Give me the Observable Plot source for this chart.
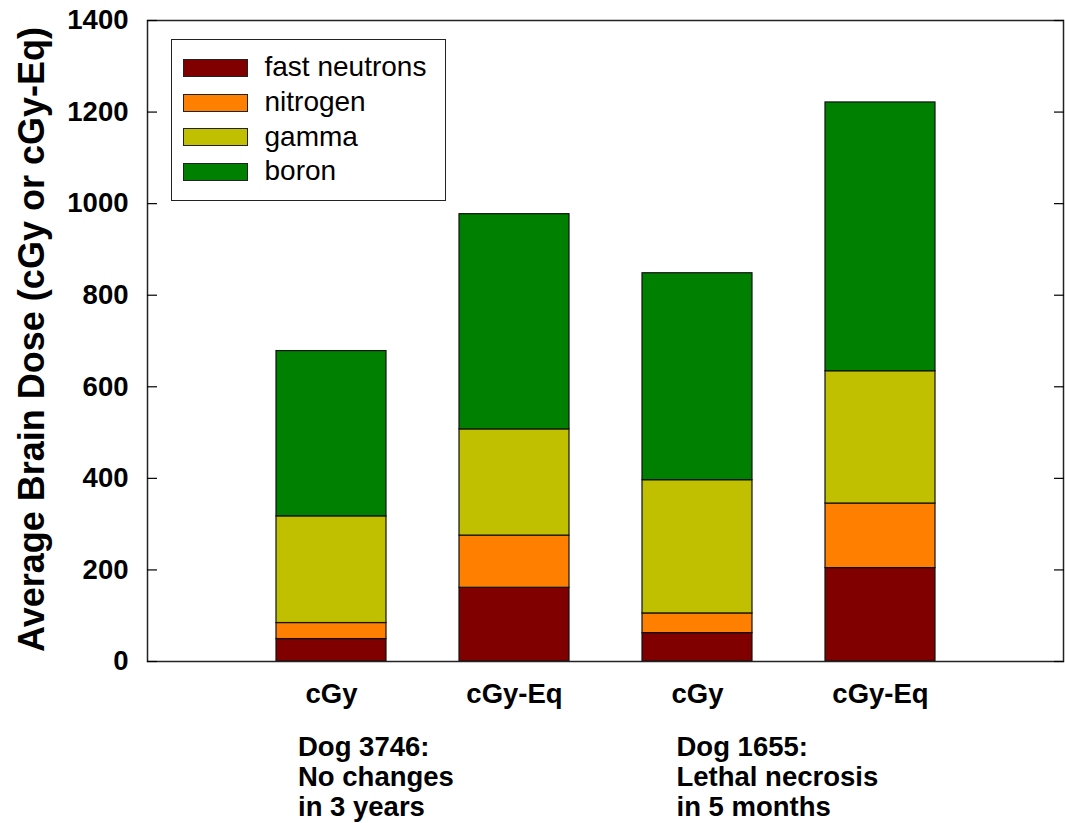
<!DOCTYPE html>
<html>
<head>
<meta charset="utf-8">
<script src="https://cdn.jsdelivr.net/npm/d3@7"></script>
<script src="https://cdn.jsdelivr.net/npm/@observablehq/plot@0.6"></script>
<style>
  body { margin: 0; background: #fff; }
  #wrap { position: relative; width: 1065px; height: 823px; font-family: "Liberation Sans", Arial, sans-serif; }
  #legend { position: absolute; left: 171px; top: 39px; width: 275px; height: 162px; box-sizing: border-box; border: 1.5px solid #222; background: #fff; }
  .sw { position: absolute; width: 65px; height: 18px; box-sizing: border-box; border: 1px solid #222; }
  .lab { position: absolute; font-size: 28px; line-height: 28px; color: #000; white-space: nowrap; }
</style>
</head>
<body>
<div id="wrap"></div>
<script>
// ---- data ----
const categories = ["3746 cGy", "3746 cGy-Eq", "1655 cGy", "1655 cGy-Eq"];
const seriesNames = ["fast neutrons", "nitrogen", "gamma", "boron"];
const seriesColors = ["#800000", "#ff8000", "#c0c000", "#008000"];
const fastNeutrons = [49, 161, 62, 204];
const nitrogen = [35, 114, 43, 141];
const gamma = [233, 232, 291, 289];
const boron = [361, 470, 452, 587];
const yTicks = [0, 200, 400, 600, 800, 1000, 1200, 1400];
const yLabel = "Average Brain Dose (cGy or cGy-Eq)";
const dogNotes = [
  {cat: "3746 cGy", text: "Dog 3746:\nNo changes\nin 3 years"},
  {cat: "1655 cGy", text: "Dog 1655:\nLethal necrosis\nin 5 months"}
];

const seriesValues = [fastNeutrons, nitrogen, gamma, boron];
const rows = [];
categories.forEach((c, i) => {
  seriesNames.forEach((s, j) => rows.push({cat: c, series: s, value: seriesValues[j][i]}));
});

const font = '"Liberation Sans", Arial, sans-serif';

const chart = Plot.plot({
  width: 1065,
  height: 823,
  marginLeft: 147,
  marginRight: 2,
  marginTop: 20,
  marginBottom: 162,
  style: {fontFamily: font, background: "white", color: "black"},
  x: {type: "band", domain: categories, paddingInner: 0.4, paddingOuter: 0.7, align: 0.5},
  y: {domain: [0, 1400]},
  color: {domain: seriesNames, range: seriesColors},
  marks: [
    Plot.barY(rows, {x: "cat", y: "value", fill: "series", order: seriesNames, stroke: "#111", strokeWidth: 1.2}),
    Plot.frame({stroke: "#222", strokeWidth: 1.5}),
    Plot.axisY({anchor: "left", ticks: yTicks, tickSize: -10, fill: "none", label: null, strokeWidth: 1.2}),
    Plot.axisY({anchor: "right", ticks: yTicks, tickSize: -10, fill: "none", label: null, strokeWidth: 1.2}),
    Plot.axisY({anchor: "left", ticks: yTicks, tickSize: 0, tickPadding: 19, fontSize: 27.5, fontWeight: "bold", label: null, tickFormat: d3.format("d")}),
    Plot.axisX({tickSize: 0, tickPadding: 22, fontSize: 27.5, fontWeight: "bold", label: null, tickFormat: d => d.split(" ")[1]}),
    Plot.text([yLabel], {text: d => d, frameAnchor: "left", textAnchor: "middle", rotate: -90, dx: -115.5, dy: -1.5, fontSize: 36, fontWeight: "bold", lineAnchor: "middle"}),
    Plot.text([dogNotes[0]], {x: "cat", text: "text", frameAnchor: "bottom", textAnchor: "start", lineAnchor: "top", dy: 72.8, dx: -33.5, fontSize: 27.5, fontWeight: "bold", lineHeight: 1.1}),
    Plot.text([dogNotes[1]], {x: "cat", text: "text", frameAnchor: "bottom", textAnchor: "start", lineAnchor: "top", dy: 72.8, dx: -21, fontSize: 27.5, fontWeight: "bold", lineHeight: 1.1})
  ]
});

const wrap = document.getElementById("wrap");
wrap.appendChild(chart);

// legend (inside the plot frame, top-left)
const legend = document.createElement("div");
legend.id = "legend";
wrap.appendChild(legend);
seriesNames.forEach((name, i) => {
  const sw = document.createElement("div");
  sw.className = "sw";
  sw.style.left = (183.7 - 171 - 1.5) + "px";
  sw.style.top = (59.3 + i * 34.7 - 39 - 1.5) + "px";
  sw.style.background = seriesColors[i];
  legend.appendChild(sw);
  const lab = document.createElement("div");
  lab.className = "lab";
  lab.style.left = (265 - 171 - 1.5) + "px";
  lab.style.top = (77.3 + i * 34.7 - 23.7 - 39 - 1.5) + "px";
  lab.textContent = name;
  legend.appendChild(lab);
});
</script>
</body>
</html>
